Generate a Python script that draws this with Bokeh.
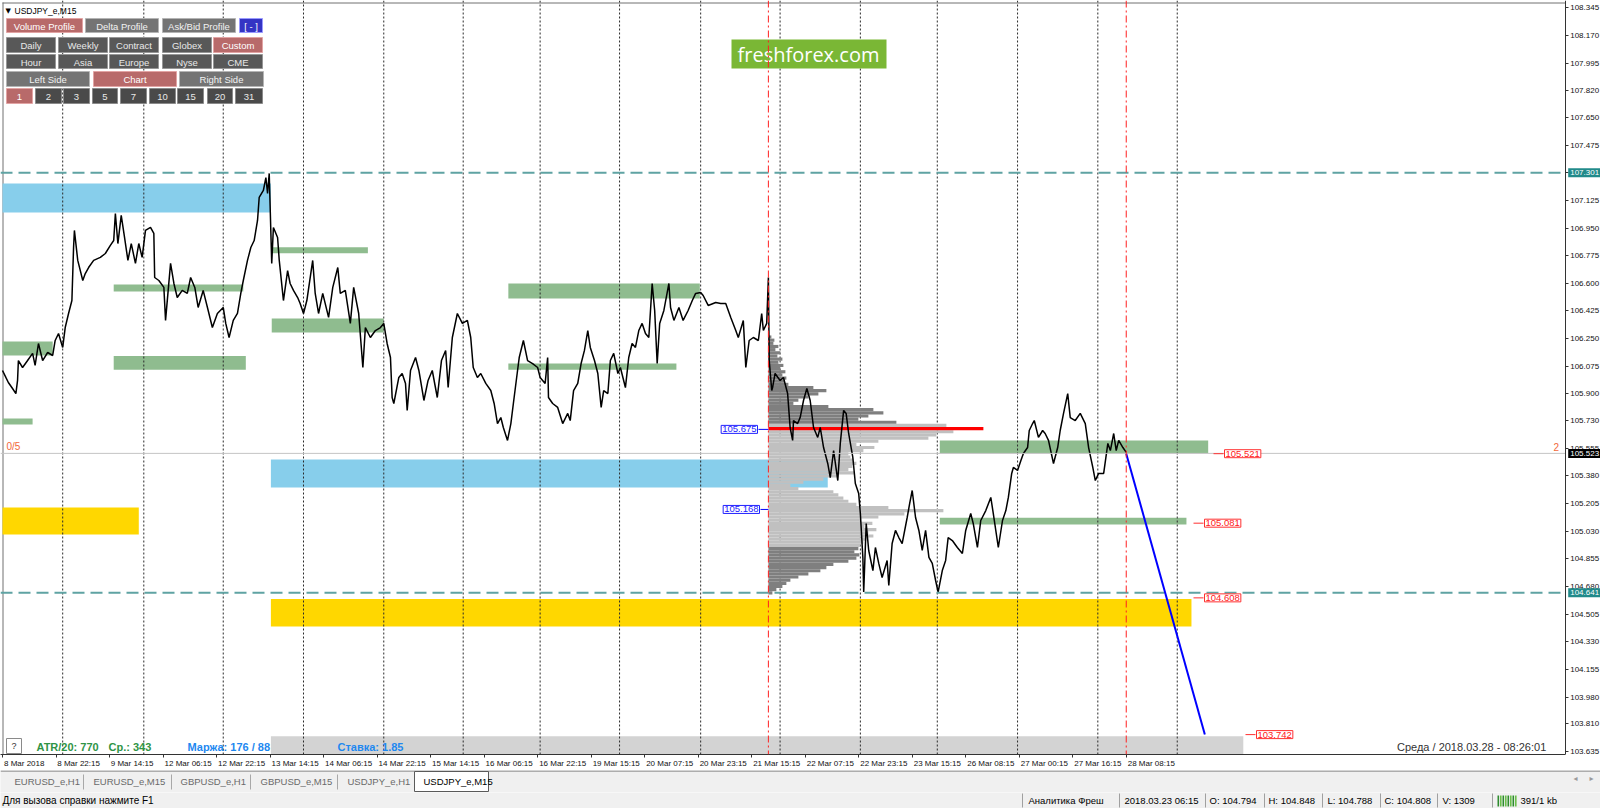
from bokeh.plotting import figure
from bokeh.models import Range1d, FixedTicker, Label, Span, ColumnDataSource, PrintfTickFormatter
from bokeh.layouts import column
from bokeh.embed import file_html
from bokeh.resources import INLINE
from bokeh.core.properties import value

FONT = "Liberation Sans"

# ---------------------------------------------------------------- data
symbol = "USDJPY_e,M15"
time_labels = ["8 Mar 2018", "8 Mar 22:15", "9 Mar 14:15", "12 Mar 06:15", "12 Mar 22:15",
               "13 Mar 14:15", "14 Mar 06:15", "14 Mar 22:15", "15 Mar 14:15", "16 Mar 06:15",
               "16 Mar 22:15", "19 Mar 15:15", "20 Mar 07:15", "20 Mar 23:15", "21 Mar 15:15",
               "22 Mar 07:15", "22 Mar 23:15", "23 Mar 15:15", "26 Mar 08:15", "27 Mar 00:15",
               "27 Mar 16:15", "28 Mar 08:15"]
BARS_PER_LABEL = 64          # one time label every 16 hours of M15 bars
day_separator_bars = [72, 169, 264, 360, 456, 551, 643, 738, 835, 930, 1026, 1118, 1214, 1310, 1405]
session_bars = [916, 1344]   # red dash-dot verticals

price_ticks = [108.345, 108.170, 107.995, 107.820, 107.650, 107.475, 107.300, 107.125, 106.950,
               106.775, 106.600, 106.425, 106.250, 106.075, 105.900, 105.730, 105.555, 105.380,
               105.205, 105.030, 104.855, 104.680, 104.505, 104.330, 104.155, 103.980, 103.810,
               103.635]

price_bars = [
    0, 4, 7, 12, 16, 18, 19, 24, 30, 36,
    39, 43, 48, 54, 60, 63, 67, 72, 75, 79,
    83, 85, 86, 90, 96, 99, 103, 109, 117, 123,
    129, 133, 135, 138, 142, 146, 150, 154, 159, 163,
    167, 171, 177, 181, 182, 187, 193, 195, 201, 205,
    209, 215, 221, 225, 230, 234, 240, 246, 251, 257,
    264, 267, 271, 276, 281, 285, 288, 293, 297, 301,
    305, 307, 312, 315, 317, 319, 322, 324, 329, 331,
    336, 341, 344, 348, 353, 356, 360, 364, 371, 374,
    378, 383, 390, 395, 401, 404, 410, 416, 420, 426,
    431, 434, 440, 446, 452, 456, 460, 464, 466, 468,
    474, 478, 482, 484, 488, 494, 498, 504, 509, 514,
    520, 525, 530, 533, 538, 544, 550, 556, 560, 563,
    568, 572, 578, 584, 588, 592, 596, 599, 604, 608,
    611, 616, 618, 623, 628, 634, 640, 643, 649, 652,
    653, 658, 664, 670, 676, 679, 683, 688, 692, 696,
    700, 703, 708, 712, 716, 719, 724, 727, 731, 736,
    739, 745, 749, 753, 757, 761, 765, 769, 773, 777,
    780, 783, 786, 791, 797, 799, 803, 809, 814, 820,
    825, 829, 835, 838, 844, 853, 859, 865, 871, 877,
    880, 886, 889, 893, 898, 904, 908, 910, 914, 916,
    917, 920, 921, 924, 930, 934, 939, 942, 945, 946,
    951, 954, 958, 962, 966, 970, 975, 978, 982, 987,
    990, 994, 999, 1002, 1006, 1009, 1012, 1017, 1020, 1024,
    1026, 1029, 1030, 1033, 1036, 1041, 1044, 1048, 1052, 1058,
    1060, 1064, 1068, 1072, 1076, 1082, 1085, 1088, 1092, 1096,
    1100, 1104, 1108, 1112, 1116, 1119, 1124, 1128, 1131, 1136,
    1142, 1148, 1152, 1158, 1161, 1166, 1170, 1176, 1182, 1185,
    1191, 1196, 1200, 1203, 1207, 1209, 1214, 1218, 1221, 1226,
    1228, 1232, 1234, 1239, 1244, 1247, 1251, 1257, 1262, 1265,
    1269, 1274, 1277, 1283, 1289, 1295, 1299, 1304, 1307, 1311,
    1317, 1322, 1325, 1329, 1332, 1335, 1340, 1344]

price_close = [
    106.048, 106.004, 105.972, 105.934, 105.902, 105.985, 106.111, 106.067, 106.111, 106.156,
    106.080, 106.219, 106.111, 106.162, 106.143, 106.238, 106.282, 106.194, 106.320, 106.409,
    106.491, 106.827, 106.935, 106.745, 106.618, 106.662, 106.700, 106.745, 106.764, 106.789,
    106.840, 106.871, 107.042, 106.852, 107.030, 106.890, 106.745, 106.852, 106.726, 106.852,
    106.764, 106.935, 106.954, 106.916, 106.637, 106.618, 106.574, 106.365, 106.726, 106.599,
    106.510, 106.555, 106.536, 106.637, 106.574, 106.447, 106.555, 106.428, 106.320, 106.409,
    106.447, 106.346, 106.257, 106.365, 106.409, 106.536, 106.618, 106.745, 106.827, 106.871,
    106.998, 107.144, 107.188, 107.270, 107.169, 107.296, 106.726, 106.954, 106.890, 106.745,
    106.491, 106.681, 106.599, 106.555, 106.510, 106.472, 106.409, 106.491, 106.745, 106.536,
    106.409, 106.536, 106.384, 106.574, 106.700, 106.536, 106.555, 106.346, 106.574, 106.409,
    106.067, 106.320, 106.257, 106.301, 106.320, 106.346, 106.219, 106.130, 105.877, 105.839,
    106.004, 106.029, 105.966, 105.795, 106.048, 106.130, 106.048, 105.858, 105.985, 106.048,
    105.877, 106.111, 106.175, 105.940, 106.257, 106.409, 106.346, 106.365, 106.257, 106.067,
    106.004, 106.029, 105.966, 105.921, 105.839, 105.712, 105.750, 105.687, 105.605, 105.712,
    105.839, 106.048, 106.130, 106.238, 106.111, 106.092, 106.067, 106.004, 105.966, 106.130,
    105.877, 105.839, 105.814, 105.712, 105.776, 105.731, 105.921, 105.966, 106.092, 106.175,
    106.301, 106.194, 106.111, 106.029, 105.814, 105.921, 105.902, 106.111, 106.156, 106.029,
    106.067, 105.940, 106.130, 106.219, 106.194, 106.301, 106.346, 106.282, 106.257, 106.599,
    106.428, 106.092, 106.346, 106.428, 106.599, 106.447, 106.365, 106.447, 106.365, 106.428,
    106.491, 106.536, 106.542, 106.523, 106.460, 106.479, 106.472, 106.472, 106.384, 106.301,
    106.257, 106.365, 106.067, 106.238, 106.257, 106.238, 106.409, 106.301, 106.346, 106.637,
    106.111, 105.921, 105.940, 106.029, 105.985, 106.004, 105.902, 105.687, 105.605, 105.731,
    105.712, 105.750, 105.858, 105.934, 105.858, 105.687, 105.624, 105.687, 105.560, 105.459,
    105.370, 105.541, 105.351, 105.586, 105.795, 105.776, 105.649, 105.497, 105.332, 105.269,
    105.142, 104.864, 104.645, 105.079, 104.908, 104.781, 104.927, 104.826, 104.737, 104.845,
    104.686, 104.952, 105.035, 104.990, 104.952, 105.117, 105.206, 105.288, 105.117, 105.035,
    104.908, 105.035, 104.864, 104.826, 104.718, 104.645, 104.781, 104.845, 104.990, 104.971,
    104.927, 104.889, 105.035, 105.142, 105.079, 104.927, 105.098, 105.161, 105.244, 105.142,
    104.927, 105.098, 105.161, 105.244, 105.396, 105.434, 105.415, 105.478, 105.522, 105.560,
    105.668, 105.712, 105.731, 105.624, 105.668, 105.649, 105.605, 105.459, 105.560, 105.668,
    105.776, 105.902, 105.750, 105.731, 105.776, 105.712, 105.560, 105.434, 105.351, 105.396,
    105.396, 105.586, 105.541, 105.649, 105.541, 105.605, 105.560, 105.529]

resistance_level = 107.301
support_level = 104.641
bid_price = 105.523

# zones (bars / prices)
green_left = [0, 0, 133, 133, 323, 322, 605, 605, 1121, 1121]
green_right = [36, 60, 291, 288, 437, 456, 834, 806, 1442, 1416]
green_top = [105.744, 106.232, 106.139, 106.593, 106.829, 106.377, 106.599, 106.092, 105.605, 105.115]
green_bottom = [105.706, 106.143, 106.052, 106.548, 106.791, 106.289, 106.504, 106.052, 105.524, 105.073]
blue_left = [0, 321]
blue_right = [321, 987]
blue_top = [107.232, 105.484]
blue_bottom = [107.049, 105.307]
gold_left = [0, 321]
gold_right = [163, 1422]
gold_top = [105.180, 104.601]
gold_bottom = [105.009, 104.427]
gray_left = [321]
gray_right = [1484]
gray_top = [103.732]
gray_bottom = [103.500]

# volume profile of the custom period
profile_start_bar = 916
profile_first_price = 104.64
profile_step = 0.02
profile_volume = [4, 8, 14, 18, 22, 30, 40, 52, 58, 65,
                  80, 88, 91, 86, 90, 92, 95, 98, 105, 100,
                  108, 96, 104, 92, 110, 136, 175, 120, 88, 80,
                  75, 70, 65, 30, 22, 35, 55, 70, 86, 80,
                  84, 88, 85, 82, 80, 95, 106, 88, 110, 160,
                  168, 185, 215, 178, 128, 90, 100, 115, 105, 60,
                  25, 30, 40, 50, 58, 45, 20, 16, 18, 14,
                  17, 12, 15, 10, 14, 9, 12, 7, 10, 5,
                  6, 3]
value_area_low = 104.93
value_area_high = 105.71
poc_low = 105.665
poc_high = 105.695
profile_marks = [105.675, 105.168]

target_levels = [105.521, 105.081, 104.608, 103.742]
forecast_bars = [1344, 1438]
forecast_prices = [105.521, 103.742]

# ---------------------------------------------------------------- figure
W = 1600
FRAME_H = 754
BARS_PER_PX = 1.196
X_START = -2 * BARS_PER_PX           # left page edge
X_END = 1598 * BARS_PER_PX           # right page edge (price scale strip inside)
AXIS_BAR = 1869                      # where the price scale sits
Y_HIGH = 108.3912
Y_LOW = 103.616

p = figure(width=W, height=770, x_range=Range1d(X_START, X_END), y_range=Range1d(Y_LOW, Y_HIGH),
           output_backend="svg", toolbar_location=None, y_axis_location="right",
           min_border_left=0, min_border_top=0, min_border_right=0, min_border_bottom=16,
           background_fill_color="white", border_fill_color="white")
p.grid.visible = False
p.outline_line_color = None


def cx(px):
    return X_START + px / W * (X_END - X_START)


def cy(py):
    return Y_HIGH - py / FRAME_H * (Y_HIGH - Y_LOW)


# price scale (right axis fixed at the chart's right edge)
yax = p.yaxis[0]
yax.fixed_location = AXIS_BAR
yax.ticker = FixedTicker(ticks=price_ticks, minor_ticks=[])
yax.formatter = PrintfTickFormatter(format="%.3f")
yax.major_label_text_font = FONT
yax.major_label_text_font_size = "8px"
yax.major_label_text_color = "#111111"
yax.major_tick_out = 3
yax.major_tick_in = 0
yax.major_label_standoff = 2
yax.axis_line_color = "#333333"
yax.major_tick_line_color = "#333333"

# time scale
CHAR_EM = {" ": 0.278, ":": 0.278, "M": 0.833, "a": 0.556, "r": 0.333}


def text_px(s, size):
    return sum(CHAR_EM.get(ch, 0.556) for ch in s) * size


label_bars = [k * BARS_PER_LABEL for k in range(len(time_labels))]
label_centers = [int(round(b + (text_px(t, 8) / 2 + 1.5) * BARS_PER_PX)) for b, t in zip(label_bars, time_labels)]
xax = p.xaxis[0]
xax.bounds = (X_START, AXIS_BAR)
xax.ticker = FixedTicker(ticks=label_centers, minor_ticks=label_bars)
xax.major_label_overrides = {c: t for c, t in zip(label_centers, time_labels)}
xax.major_tick_line_color = None
xax.major_tick_out = 3
xax.minor_tick_out = 3
xax.minor_tick_in = 0
xax.minor_tick_line_color = "#333333"
xax.major_label_standoff = 1
xax.major_label_text_font = FONT
xax.major_label_text_font_size = "8px"
xax.major_label_text_color = "#111111"
xax.axis_line_color = "#333333"

# frame top / left borders
p.segment(x0=[cx(2)], x1=[AXIS_BAR], y0=[cy(2.5)], y1=[cy(2.5)], line_color="#707070", line_width=1)
p.segment(x0=[cx(2.5)], x1=[cx(2.5)], y0=[cy(2)], y1=[Y_LOW], line_color="#707070", line_width=1)

# zones
p.quad(left=gray_left, right=gray_right, top=gray_top, bottom=gray_bottom, fill_color="#D3D3D3", line_color=None)
p.quad(left=blue_left, right=blue_right, top=blue_top, bottom=blue_bottom, fill_color="#87CEEB", line_color=None)
p.quad(left=gold_left, right=gold_right, top=gold_top, bottom=gold_bottom, fill_color="#FFD700", line_color=None)
p.quad(left=green_left, right=green_right, top=green_top, bottom=green_bottom, fill_color="#8FBC8F", line_color=None)

# day separators
p.segment(x0=day_separator_bars, x1=day_separator_bars, y0=[Y_LOW] * len(day_separator_bars),
          y1=[Y_HIGH] * len(day_separator_bars), line_color="#2a2a2a", line_dash="2 2", line_width=1)

# volume profile
PROFILE_BARS_PER_UNIT = 1.196
prof_bottom, prof_top, prof_right, prof_color = [], [], [], []
for i, vol in enumerate(profile_volume):
    level = profile_first_price + i * profile_step
    prof_bottom.append(level - profile_step / 2)
    prof_top.append(level + profile_step / 2)
    prof_right.append(profile_start_bar + vol * PROFILE_BARS_PER_UNIT)
    if poc_low <= level <= poc_high:
        prof_color.append("#FF0000")
    elif value_area_low <= level <= value_area_high:
        prof_color.append("#C0C0C0")
    else:
        prof_color.append("#7F7F7F")
p.quad(left=[profile_start_bar] * len(profile_volume), right=prof_right, top=prof_top, bottom=prof_bottom,
       fill_color=prof_color, line_color=None)

# price line
p.line(price_bars, price_close, line_color="black", line_width=1.5)

# horizontal levels (up to the price scale)
p.segment(x0=[X_START, X_START], x1=[AXIS_BAR, AXIS_BAR], y0=[resistance_level, support_level],
          y1=[resistance_level, support_level], line_color="#5FA3A3", line_width=2, line_dash="12 6")
p.segment(x0=[X_START], x1=[AXIS_BAR], y0=[bid_price], y1=[bid_price], line_color="#C4C4C4", line_width=1)
for sb in session_bars:
    p.add_layout(Span(location=sb, dimension="height", line_color="#FF2020", line_width=1, line_dash="7 3 2 3"))

# forecast line
p.line(forecast_bars, forecast_prices, line_color="#0000FF", line_width=2)

# target labels (red) right of zones
target_x = [cx(1223), cx(1203), cx(1203), cx(1255)]
for lvl, tx in zip(target_levels, target_x):
    p.segment(x0=[tx - 10 * BARS_PER_PX], x1=[tx], y0=[lvl], y1=[lvl], line_color="#FF3030", line_width=1)
    p.add_layout(Label(x=tx, y=lvl, text=f"{lvl:.3f}", text_align="left", text_baseline="middle",
                       text_font=FONT, text_font_size="9.5px", text_color="#FF2020",
                       background_fill_color="white", border_line_color="#FF3030", padding=1, x_offset=1))

# profile marks (blue)
mark_x = [cx(758), cx(760)]
for lvl, mx in zip(profile_marks, mark_x):
    p.segment(x0=[mx], x1=[profile_start_bar], y0=[lvl], y1=[lvl], line_color="#0000FF", line_width=1)
    p.add_layout(Label(x=mx, y=lvl, text=f"{lvl:.3f}", text_align="right", text_baseline="middle",
                       text_font=FONT, text_font_size="9.5px", text_color="#2020FF",
                       background_fill_color="white", border_line_color="#2020FF", padding=1, x_offset=-1))

# price boxes on the price scale
for lvl, bg in ((resistance_level, "#218A8A"), (bid_price, "#000000"), (support_level, "#218A8A")):
    p.add_layout(Label(x=AXIS_BAR, y=lvl, text=f"{lvl:.3f}", text_align="left", text_baseline="middle",
                       text_font=FONT, text_font_size="8px", text_color="white",
                       background_fill_color=bg, padding=2, x_offset=3))

# ---------------------------------------------------------------- interface chrome


def add_text(fig, x, y, txt, size, color, align="left", style="normal", font=FONT, baseline="middle"):
    fig.text(x=[x], y=[y], text=[txt], text_font=value(font), text_font_size=value(size),
             text_color=color, text_align=align, text_baseline=baseline, text_font_style=style)


add_text(p, cx(5), cy(10), "▼", "7px", "black", font="DejaVu Sans")
add_text(p, cx(14), cy(10), symbol, "8.5px", "black")

ROSE = ("#B86A6A", "#E2A4A4", "#FFFFFF")
GRAY_L = ("#747474", "#B4B4B4", "#F2F2F2")
GRAY_D = ("#585858", "#969696", "#E8E8E8")
GRAY_N = ("#4A4A4A", "#8A8A8A", "#E8E8E8")
BLUE_B = ("#3434C4", "#9A9AFF", "#FFFFFF")
buttons = [
    ("Volume Profile", 6, 82, 18, 32, ROSE), ("Delta Profile", 85, 158, 18, 32, GRAY_L),
    ("Ask/Bid Profile", 162, 235, 18, 32, GRAY_L), ("[ - ]", 239, 262, 18, 32, BLUE_B),
    ("Daily", 6, 55, 37, 52, GRAY_D), ("Weekly", 58, 107, 37, 52, GRAY_D),
    ("Contract", 109, 158, 37, 52, GRAY_D), ("Globex", 162, 211, 37, 52, GRAY_D),
    ("Custom", 213, 262, 37, 52, ROSE),
    ("Hour", 6, 55, 54, 68, GRAY_D), ("Asia", 58, 107, 54, 68, GRAY_D),
    ("Europe", 109, 158, 54, 68, GRAY_D), ("Nyse", 162, 211, 54, 68, GRAY_D),
    ("CME", 213, 262, 54, 68, GRAY_D),
    ("Left Side", 6, 89, 71, 86, GRAY_L), ("Chart", 93, 176, 71, 86, ROSE),
    ("Right Side", 179, 263, 71, 86, GRAY_L),
    ("1", 6, 32, 88, 103, ROSE), ("2", 35, 61, 88, 103, GRAY_N), ("3", 63, 89, 88, 103, GRAY_N),
    ("5", 92, 117, 88, 103, GRAY_N), ("7", 120, 146, 88, 103, GRAY_N), ("10", 149, 175, 88, 103, GRAY_N),
    ("15", 177, 203, 88, 103, GRAY_N), ("20", 207, 232, 88, 103, GRAY_N), ("31", 235, 262, 88, 103, GRAY_N),
]
bsrc = ColumnDataSource(dict(
    left=[cx(b[1]) for b in buttons], right=[cx(b[2]) for b in buttons],
    top=[cy(b[3]) for b in buttons], bottom=[cy(b[4]) for b in buttons],
    fill=[b[5][0] for b in buttons], line=[b[5][1] for b in buttons], tcol=[b[5][2] for b in buttons],
    tx=[cx((b[1] + b[2]) / 2) for b in buttons], ty=[cy((b[3] + b[4]) / 2 + 0.5) for b in buttons],
    text=[b[0] for b in buttons]))
p.quad(left="left", right="right", top="top", bottom="bottom", fill_color="fill", line_color="line",
       line_width=1, source=bsrc)
p.text(x="tx", y="ty", text="text", text_color="tcol", text_align="center", text_baseline="middle",
       text_font=value(FONT), text_font_size=value("9.5px"), source=bsrc)

# brand box
p.quad(left=[cx(731)], right=[cx(886)], top=[cy(39)], bottom=[cy(68)], fill_color="#7AB735", line_color=None)
add_text(p, cx(808), cy(54), "freshforex.com", "20px", "white", align="center", font="Open Sans")

# bid markers
add_text(p, cx(6), cy(446), "0/5", "10px", "#F2683A")
add_text(p, cx(1553), cy(446), "2", "10px", "#F2683A")

# bottom info line
p.quad(left=[cx(6)], right=[cx(21)], top=[cy(738)], bottom=[cy(753)], fill_color="white", line_color="#8A8A8A")
add_text(p, cx(13.5), cy(745.5), "?", "9px", "#333333", align="center")
add_text(p, cx(36), cy(746), "ATR/20: 770", "11px", "#2F9446", style="bold")
add_text(p, cx(108), cy(746), "Ср.: 343", "11px", "#2F9446", style="bold")
add_text(p, cx(187), cy(746), "Маржа: 176 / 88", "11px", "#1E88F0", style="bold")
add_text(p, cx(337), cy(746), "Ставка: 1.85", "11px", "#1E88F0", style="bold")
add_text(p, cx(1558), cy(746), "Среда  /  2018.03.28  -  08:26:01", "11px", "#333333", align="right")

# ---------------------------------------------------------------- tabs strip
tabs = figure(width=W, height=22, x_range=Range1d(0, 1600), y_range=Range1d(792, 770),
              output_backend="svg", toolbar_location=None, x_axis_type=None, y_axis_type=None,
              min_border=0, background_fill_color="#F0F0F0", border_fill_color="#F0F0F0",
              outline_line_color=None)
tabs.segment(x0=[0], x1=[1600], y0=[770.5], y1=[770.5], line_color="#6B6B6B", line_width=1)
tab_names = ["EURUSD_e,H1", "EURUSD_e,M15", "GBPUSD_e,H1", "GBPUSD_e,M15", "USDJPY_e,H1", "USDJPY_e,M15"]
tab_x = [14, 93, 180, 260, 347, 423]
tab_sep = [83, 171, 250, 337]
tabs.quad(left=[414], right=[488], top=[771], bottom=[791], fill_color="white", line_color="#5A5A5A")
tabs.segment(x0=tab_sep, x1=tab_sep, y0=[774] * 4, y1=[789] * 4, line_color="#A8A8A8", line_width=1)
for name, tx in zip(tab_names, tab_x):
    add_text(tabs, tx, 781, name, "9.5px", "#000000" if name == symbol else "#6A6A6A")
add_text(tabs, 1575, 778, "◂", "8px", "#9A9A9A", align="center", font="DejaVu Sans")
add_text(tabs, 1591, 778, "▸", "8px", "#9A9A9A", align="center", font="DejaVu Sans")

# ---------------------------------------------------------------- status bar
status = figure(width=W, height=16, x_range=Range1d(0, 1600), y_range=Range1d(808, 792),
                output_backend="svg", toolbar_location=None, x_axis_type=None, y_axis_type=None,
                min_border=0, background_fill_color="#F0F0F0", border_fill_color="#F0F0F0",
                outline_line_color=None)
add_text(status, 2, 800, "Для вызова справки нажмите F1", "10px", "#000000")
status_fields = ["Аналитика Фреш", "2018.03.23 06:15", "O: 104.794", "H: 104.848", "L: 104.788",
                 "C: 104.808", "V: 1309", "391/1 kb"]
status_x = [1028, 1124, 1209, 1268, 1327, 1384, 1442, 1520]
status_sep = [1022, 1119, 1205, 1264, 1322, 1380, 1437, 1492]
status.segment(x0=status_sep, x1=status_sep, y0=[793] * len(status_sep), y1=[807] * len(status_sep),
               line_color="#A0A0A0", line_width=1)
for txt, sx in zip(status_fields, status_x):
    add_text(status, sx, 800, txt, "9.5px", "#000000")
icon_left = [1497 + 2.5 * k for k in range(8)]
status.quad(left=icon_left, right=[v + 1.6 for v in icon_left], top=[795] * 8, bottom=[806] * 8,
            fill_color=["#2E8B2E", "#6BBF4A"] * 4, line_color=None)

layout = column(p, tabs, status)
open("out.html", "w").write(file_html(layout, INLINE))
